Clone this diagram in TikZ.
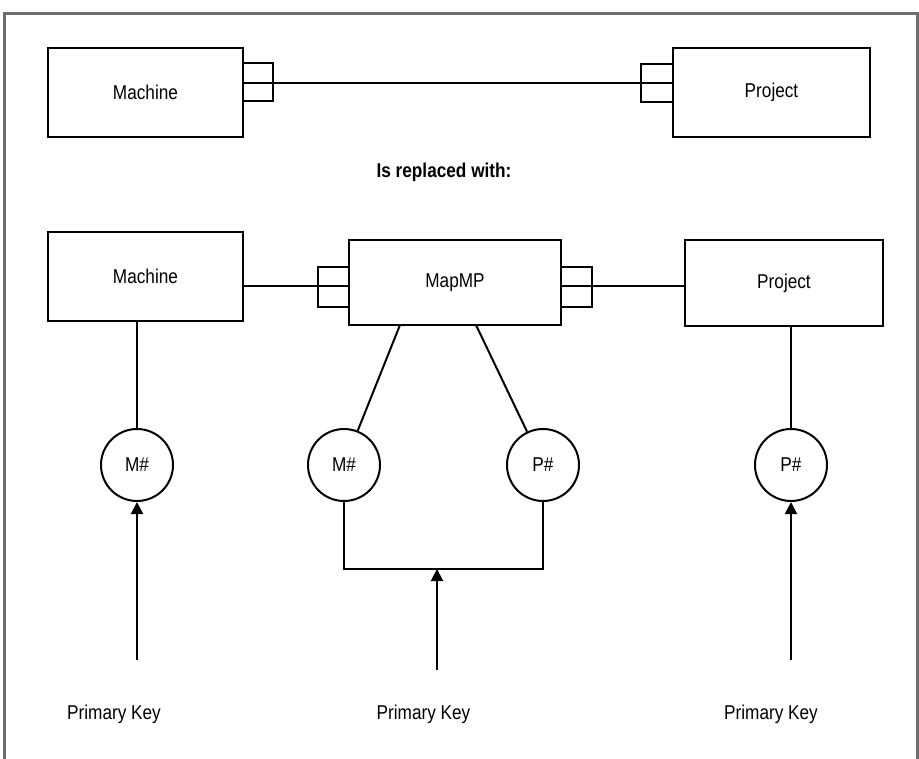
\documentclass[tikz,border=0pt]{standalone}
\usepackage{fontspec}
\setmainfont{Liberation Sans}[FakeStretch=0.86]
\usetikzlibrary{arrows.meta}
\definecolor{framegray}{HTML}{6E6E6E}
\begin{document}
\begin{tikzpicture}[x=1pt,y=-1pt, line width=2pt,
  font=\fontsize{20}{23}\selectfont,
  ent/.style={draw, rectangle, inner sep=0pt},
  keyc/.style={draw, circle, minimum size=72pt, inner sep=0pt},
  lbl/.style={anchor=base, inner sep=0pt},
  arr/.style={-{Triangle[width=12pt,length=12pt]}}]
\useasboundingbox (0,0) rectangle (919,759);
\draw[line width=3pt, draw=framegray] (4,759) -- (4,14) -- (917,14) -- (917,759);

% top row
\node[ent, minimum width=195pt, minimum height=89pt] (m1) at (145.5,92.5) {Machine};
\node[ent, minimum width=197pt, minimum height=89pt] (p1) at (771.5,92.5) {Project};
\draw (243,63) -- (273,63) -- (273,101) -- (243,101);
\draw (673,64) -- (641,64) -- (641,102) -- (673,102);
\draw (m1.east |- 0,83) -- (p1.west |- 0,83);

\node[lbl, font=\fontsize{20}{23}\selectfont\bfseries] (rep) at (444,178) {Is replaced with:};

% second row
\node[ent, minimum width=195pt, minimum height=89pt] (m2) at (145.5,276.7) {Machine};
\node[ent, minimum width=212pt, minimum height=85pt] (mp) at (455,282.5) {MapMP};
\node[ent, minimum width=198pt, minimum height=86pt] (p2) at (784,283) {Project};
\draw (349,267) -- (318,267) -- (318,307) -- (349,307);
\draw (561,267) -- (592,267) -- (592,307) -- (561,307);
\draw (m2.east |- 0,286.5) -- (mp.west |- 0,286.5);
\draw (mp.east |- 0,286.5) -- (p2.west |- 0,286.5);

% key circles
\node[keyc] (c1) at (137,465) {M\#};
\node[keyc] (c2) at (344,465) {M\#};
\node[keyc] (c3) at (543,465) {P\#};
\node[keyc] (c4) at (791,465) {P\#};

\draw (c1 |- m2.south) -- (c1);
\coordinate (ma) at (400,325);
\coordinate (mb) at (476,325);
\draw (ma) -- (c2);
\draw (mb) -- (c3);
\draw (c4 |- p2.south) -- (c4);

% bracket and arrows
\coordinate (br) at (437,569);
\draw (c2) -- (c2 |- br) -- (c3 |- br) -- (c3);
\coordinate (a1) at (137,660);
\coordinate (a2) at (437,670);
\coordinate (a3) at (791,660);
\draw[arr] (a1) -- (c1);
\draw[arr] (a2) -- (br);
\draw[arr] (a3) -- (c4);

% labels
\node[lbl] (k1) at (114,719) {Primary Key};
\node[lbl] (k2) at (423.5,719) {Primary Key};
\node[lbl] (k3) at (771,719) {Primary Key};
\end{tikzpicture}
\end{document}
